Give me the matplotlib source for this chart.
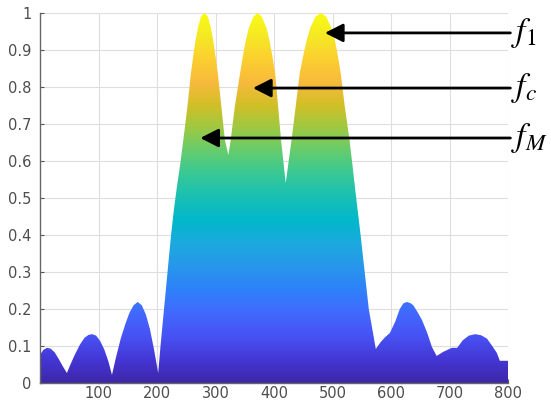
import numpy as np
import matplotlib
matplotlib.use("Agg")
import matplotlib.pyplot as plt
from matplotlib.colors import LinearSegmentedColormap

# spectrum (x index, normalized magnitude)
x = [0, 6, 12, 18, 25, 32, 39, 46,
     52, 60, 68, 76, 83, 89, 96, 103, 110, 117, 123,
     130, 138, 146, 153, 160, 167, 174, 181, 188, 195, 202,
     206, 212, 218, 224, 229, 234, 240, 245, 252, 258, 262, 266, 270, 275, 281,
     287, 292, 296, 304, 310, 316, 322,
     326, 333, 342, 347, 352, 357, 365, 372, 379, 387, 392, 397, 402, 407, 412, 420,
     430, 437, 444, 450, 456, 462, 471, 480, 489, 498, 504, 509, 514, 521, 529, 534, 539,
     548, 555, 562, 574,
     582, 590, 598, 607, 615, 621, 627, 633, 638, 646, 653, 662, 670, 678,
     689, 704, 713, 723, 733, 744, 754, 764, 773, 781, 786, 800]
y = [0.076, 0.09, 0.095, 0.093, 0.083, 0.065, 0.045, 0.027,
     0.05, 0.078, 0.103, 0.122, 0.13, 0.132, 0.128, 0.113, 0.09, 0.058, 0.022,
     0.07, 0.12, 0.16, 0.19, 0.21, 0.219, 0.21, 0.185, 0.145, 0.09, 0.027,
     0.10, 0.20, 0.30, 0.40, 0.47, 0.53, 0.595, 0.657, 0.747, 0.837, 0.885, 0.927, 0.96, 0.99, 1.0,
     0.99, 0.96, 0.927, 0.837, 0.747, 0.657, 0.616,
     0.657, 0.747, 0.837, 0.885, 0.927, 0.96, 0.99, 1.0, 0.99, 0.96, 0.927, 0.885, 0.837, 0.747, 0.657, 0.54,
     0.657, 0.747, 0.837, 0.885, 0.927, 0.96, 0.99, 1.0, 0.99, 0.96, 0.927, 0.885, 0.837, 0.747, 0.657, 0.59, 0.52,
     0.40, 0.30, 0.20, 0.092,
     0.11, 0.124, 0.135, 0.165, 0.20, 0.215, 0.219, 0.216, 0.21, 0.19, 0.17, 0.135, 0.097, 0.073,
     0.084, 0.095, 0.095, 0.116, 0.128, 0.132, 0.129, 0.12, 0.10, 0.081, 0.06, 0.06]

xticks = [100, 200, 300, 400, 500, 600, 700, 800]
yticks = [0, 0.1, 0.2, 0.3, 0.4, 0.5, 0.6, 0.7, 0.8, 0.9, 1]
ytick_labels = ["0", "0.1", "0.2", "0.3", "0.4", "0.5", "0.6", "0.7", "0.8", "0.9", "1"]

labels = ["$f_1$", "$f_c$", "$f_M$"]
# arrow tips (data coords) and label heights
tip_x = [487, 364, 274]
tip_y = [0.946, 0.797, 0.662]

# old MATLAB parula
parula_pts = [
    (0.2422, 0.1504, 0.6603), (0.2706, 0.2147, 0.8364), (0.2810, 0.3228, 0.9579),
    (0.2602, 0.4123, 0.9952), (0.1834, 0.5074, 0.9798), (0.1540, 0.5902, 0.9218),
    (0.1113, 0.6635, 0.8763), (0.0036, 0.7203, 0.7917), (0.0964, 0.7500, 0.7120),
    (0.2161, 0.7843, 0.5923), (0.3909, 0.8029, 0.4354), (0.6174, 0.7876, 0.2612),
    (0.8203, 0.7498, 0.1535), (0.9728, 0.7298, 0.2394), (0.9892, 0.8136, 0.1885),
    (0.9597, 0.9135, 0.1423), (0.9769, 0.9839, 0.0805)]
parula = LinearSegmentedColormap.from_list("parula", parula_pts)

plt.rcParams["mathtext.fontset"] = "stix"

fig = plt.figure(figsize=(5.51, 4.04), dpi=100)
ax = fig.add_axes([0.0726, 0.052, 0.8494, 0.916])

ax.set_xlim(0, 800)
ax.set_ylim(0, 1)

# gradient fill: vertical parula image clipped to the area under the curve
poly = ax.fill_between(x, 0, y, facecolor="none", edgecolor="none", zorder=2)
grad = np.linspace(0, 1, 256).reshape(-1, 1)
img = ax.imshow(grad, cmap=parula, origin="lower", extent=[0, 800, 0, 1],
                aspect="auto", zorder=2)
path = poly.get_paths()[0]
img.set_clip_path(path, transform=ax.transData)

ax.set_xticks(xticks)
ax.set_yticks(yticks)
ax.set_yticklabels(ytick_labels)
ax.grid(True, color="#dedede", lw=0.8)
ax.set_axisbelow(True)
ax.tick_params(direction="in", length=3, colors="#555555", labelsize=10.5,
               labelcolor="#4d4d4d", pad=6)
ax.tick_params(axis="x", pad=2.5)
for s in ["top", "right"]:
    ax.spines[s].set_visible(False)
for s in ["left", "bottom"]:
    ax.spines[s].set_color("#666666")
    ax.spines[s].set_linewidth(1.0)

for lab, tx, ty in zip(labels, tip_x, tip_y):
    ax.annotate("", xy=(tx, ty), xytext=(804, ty),
                arrowprops=dict(arrowstyle="-|>,head_length=0.55,head_width=0.28",
                                color="black", lw=2, mutation_scale=20,
                                shrinkA=0, shrinkB=0),
                annotation_clip=False, zorder=5)
    ax.text(805, ty, lab, fontsize=24, ha="left", va="center", color="black",
            clip_on=False)

fig.savefig("out.png", dpi=100)
